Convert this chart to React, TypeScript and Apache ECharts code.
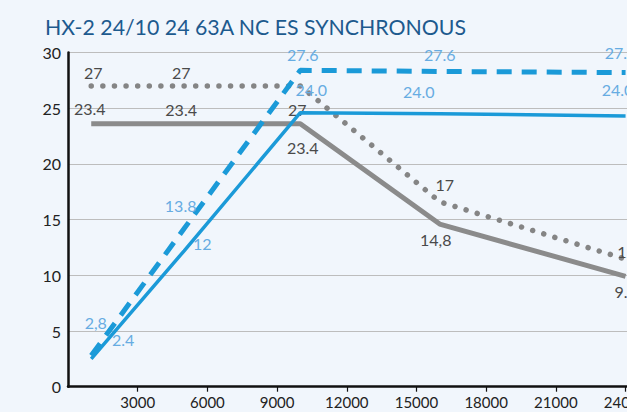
import React, { useEffect, useRef } from "react";
import * as echarts from "echarts";

const TITLE = "HX-2 24/10 24 63A NC ES SYNCHRONOUS";

const xValues = [1000, 5000, 10000, 16000, 24000];

const graySolidValues = [23.6, 23.6, 23.6, 14.6, 9.9];
const graySolidLabels = ["23.4", "23.4", "23.4", "14,8", "9.8"];

const grayDottedValues = [27, 27, 27, 16.6, 11.45];
const grayDottedLabels = ["27", "27", "27", "17", "12"];

const blueSolidValues = [2.5, 12.2, 24.6, 24.5, 24.3];
const blueSolidLabels = ["2.4", "12", "24.0", "24.0", "24.0"];

const blueDashedValues = [2.8, 14.2, 28.4, 28.3, 28.2];
const blueDashedLabels = ["2,8", "13.8", "27.6", "27.6", "27.6"];

const yTicks = { min: 0, max: 30, interval: 5 };
const xTicks = { min: 0, max: 27000, interval: 3000 };

// label offsets (styling only)
const graySolidOffsets = [[-1.5, -15], [-3, -14], [2.5, 24], [-4, 15], [0, 15]];
const grayDottedOffsets = [[2, -13.5], [-3, -13.5], [-3, 24], [5, -17], [1, -8]];
const blueSolidOffsets = [[32, -19], [18, -7], [11, -23], [-21, -22], [-8, -26]];
const blueDashedOffsets = [[4.5, -33], [-3.5, -23], [2.5, -16], [0, -17], [-5, -20]];

const FONT = "Lato";

function mkSeries(
  name: string,
  values: number[],
  labels: string[],
  offsets: number[][],
  lineColor: string,
  labelColor: string,
  lineStyle: any,
  z: number
) {
  return {
    name,
    type: "line",
    z,
    symbol: "circle",
    symbolSize: 1,
    showSymbol: true,
    itemStyle: { color: "rgba(0,0,0,0)" },
    lineStyle: { color: lineColor, ...lineStyle },
    label: {
      show: true,
      position: "inside",
      color: labelColor,
      fontFamily: FONT,
      fontSize: 16,
      formatter: (p: any) => labels[p.dataIndex],
    },
    data: values.map((v, i) => ({
      value: [xValues[i], v],
      label: { offset: offsets[i] },
    })),
  };
}

export default function App() {
  const ref = useRef<HTMLDivElement>(null);
  useEffect(() => {
    if (!ref.current) return;
    const chart = echarts.init(ref.current, undefined, { renderer: "svg" });
    chart.setOption({
      animation: false,
      backgroundColor: "#f1f6fc",
      title: {
        text: TITLE,
        left: 40,
        top: 11,
        textStyle: {
          fontFamily: FONT,
          fontSize: 21.3,
          fontWeight: "normal",
          color: "#1d5a8e",
        },
      },
      grid: { left: 68, top: 52.5, right: 18, bottom: 25.3 },
      xAxis: {
        type: "value",
        min: xTicks.min,
        max: xTicks.max,
        interval: xTicks.interval,
        axisLine: { show: true, lineStyle: { color: "#111", width: 2.5 } },
        axisTick: { show: true, length: 5, lineStyle: { color: "#111", width: 1.2 } },
        splitLine: { show: false },
        axisLabel: {
          showMinLabel: false,
          color: "#222",
          fontFamily: FONT,
          fontSize: 15,
          margin: 8,
          formatter: (v: number) => String(v),
        },
      },
      yAxis: {
        type: "value",
        min: yTicks.min,
        max: yTicks.max,
        interval: yTicks.interval,
        axisLine: { show: true, lineStyle: { color: "#111", width: 2.5 } },
        axisTick: { show: false },
        splitLine: { show: true, lineStyle: { color: "#bdbdbd", width: 1 } },
        axisLabel: {
          color: "#222",
          fontFamily: FONT,
          fontSize: 16,
          margin: 7,
        },
      },
      series: [
        mkSeries("gray solid", graySolidValues, graySolidLabels, graySolidOffsets, "#8b8b8b", "#4a4a4a", { width: 5 }, 2),
        mkSeries("gray dotted", grayDottedValues, grayDottedLabels, grayDottedOffsets, "#858585", "#4a4a4a", { width: 5.5, type: [0.01, 11.6], cap: "round" }, 2),
        mkSeries("blue solid", blueSolidValues, blueSolidLabels, blueSolidOffsets, "#1b9ad8", "#67ace2", { width: 3.5 }, 3),
        mkSeries("blue dashed", blueDashedValues, blueDashedLabels, blueDashedOffsets, "#1b9ad8", "#67ace2", { width: 5, type: [15, 10] }, 3),
      ],
    });
    return () => chart.dispose();
  }, []);
  return (
    <div
      style={{
        position: "fixed",
        left: 0,
        top: 0,
        width: 627,
        height: 412,
        overflow: "hidden",
        background: "#f1f6fc",
      }}
    >
      <div ref={ref} style={{ width: 720, height: 412 }} />
    </div>
  );
}
